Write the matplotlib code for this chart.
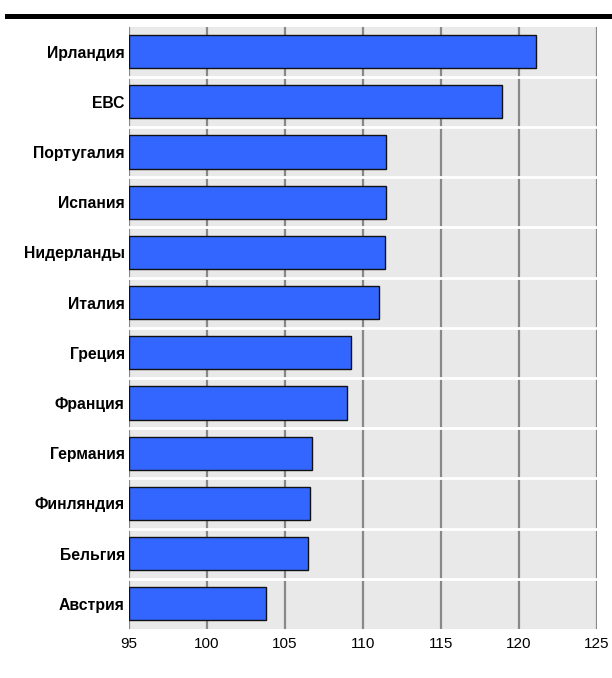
import matplotlib
matplotlib.use('Agg')
import matplotlib.pyplot as plt
from matplotlib.lines import Line2D

# Данные (сверху вниз)
strany = ['Ирландия', 'ЕВС', 'Португалия', 'Испания', 'Нидерланды', 'Италия',
          'Греция', 'Франция', 'Германия', 'Финляндия', 'Бельгия', 'Австрия']
znacheniya = [121.1, 118.9, 111.5, 111.5, 111.4, 111.0,
              109.2, 109.0, 106.75, 106.6, 106.45, 103.8]
x_ticks = [95, 100, 105, 110, 115, 120, 125]

plt.rcParams['font.family'] = ['Liberation Sans', 'DejaVu Sans']

fig = plt.figure(figsize=(6.12, 6.78), dpi=100)
ax = fig.add_axes([0.2108, 0.0723, 0.7647, 0.8886])
ax.set_facecolor('#e9e9e9')

pos = list(range(len(strany)))
ax.barh(pos, [v - 95 for v in znacheniya], left=95, height=0.66,
        color='#3366ff', edgecolor='#111111', linewidth=1.0, zorder=3)

ax.set_xlim(95, 125)
ax.set_ylim(len(strany) - 0.5, -0.5)
ax.set_xticks(x_ticks)
ax.set_xticklabels([str(t) for t in x_ticks], fontsize=11)
ax.set_yticks(pos)
ax.set_yticklabels(strany, fontsize=11.3, fontweight='bold')
ax.tick_params(axis='both', length=0)
ax.tick_params(axis='x', pad=6)
ax.tick_params(axis='y', pad=3)

# серые вертикальные линии сетки
for t in x_ticks:
    ax.axvline(t, color='#888888', linewidth=1.6, zorder=1)
# белые разделители между строками
for i in range(len(strany) - 1):
    ax.axhline(i + 0.5, color='white', linewidth=2.0, zorder=2)

for s in ax.spines.values():
    s.set_visible(False)

# черная линия сверху
fig.add_artist(Line2D([7 / 612, 1.0], [1 - 16 / 678, 1 - 16 / 678],
                      color='black', linewidth=3.6, transform=fig.transFigure))

fig.savefig('out.png', dpi=100)
